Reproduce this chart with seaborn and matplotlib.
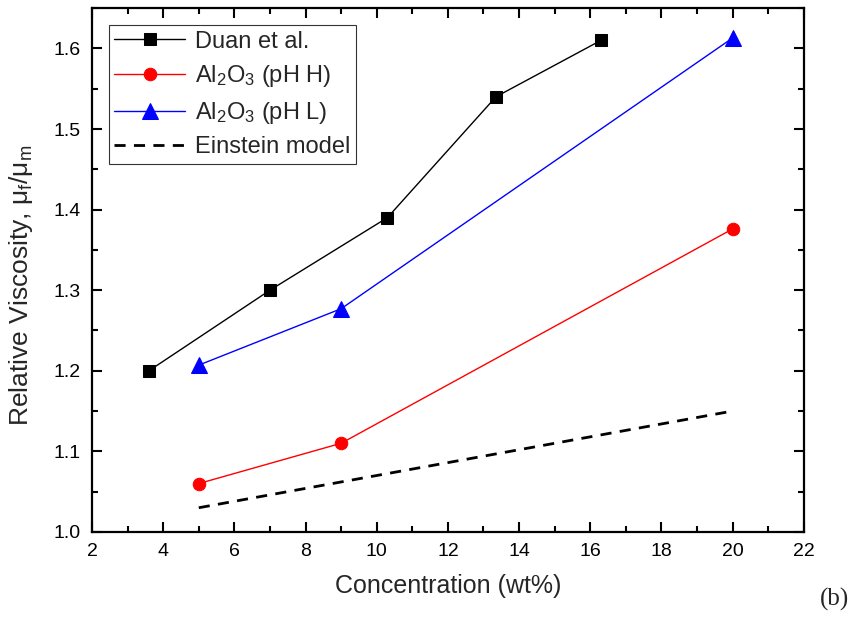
import matplotlib
matplotlib.use("Agg")
import matplotlib.pyplot as plt
import seaborn as sns
import pandas as pd
from matplotlib.ticker import MultipleLocator

duan_x = [3.6, 7.0, 10.3, 13.35, 16.3]
duan_y = [1.20, 1.30, 1.39, 1.54, 1.61]
phh_x = [5, 9, 20]
phh_y = [1.06, 1.11, 1.376]
phl_x = [5, 9, 20]
phl_y = [1.207, 1.277, 1.613]
ein_x = [5, 9, 20]
ein_y = [1.03, 1.062, 1.15]

sns.set_style("ticks")
plt.rcParams['font.family'] = ['Liberation Sans', 'DejaVu Sans']
plt.rcParams['mathtext.fontset'] = 'custom'
plt.rcParams['mathtext.rm'] = 'Liberation Sans'
plt.rcParams['mathtext.it'] = 'Liberation Sans:italic'

fig = plt.figure(figsize=(8.68, 6.28), dpi=100)
ax = fig.add_axes([0.106, 0.153, 0.82, 0.834])

sns.lineplot(x=duan_x, y=duan_y, ax=ax, color='black', lw=1, marker='s',
             markersize=8, markeredgecolor='black', label='Duan et al.')
sns.lineplot(x=phh_x, y=phh_y, ax=ax, color='red', lw=1, marker='o',
             markersize=9, markeredgecolor='red', label=r'Al$_2$O$_3$ (pH H)')
sns.lineplot(x=phl_x, y=phl_y, ax=ax, color='blue', lw=1, marker='^',
             markersize=11, markeredgecolor='blue', label=r'Al$_2$O$_3$ (pH L)')
sns.lineplot(x=ein_x, y=ein_y, ax=ax, color='black', lw=2, linestyle=(0, (4, 3)),
             label='Einstein model')

ax.set_xlim(2, 22)
ax.set_ylim(1.0, 1.65)
ax.xaxis.set_major_locator(MultipleLocator(2))
ax.xaxis.set_minor_locator(MultipleLocator(1))
ax.yaxis.set_major_locator(MultipleLocator(0.1))
ax.yaxis.set_minor_locator(MultipleLocator(0.05))
ax.yaxis.set_major_formatter(matplotlib.ticker.FormatStrFormatter('%.1f'))
ax.tick_params(which='both', direction='in', top=True, right=True, width=1.5,
               labelsize=14, colors='black')
ax.tick_params(which='major', length=7, pad=8)
ax.tick_params(which='minor', length=4)
for s in ax.spines.values():
    s.set_linewidth(1.6)
    s.set_color('black')
    s.set_visible(True)

ax.set_xlabel('Concentration (wt%)', fontsize=18, labelpad=10)
ax.set_ylabel(r'Relative Viscosity, $\mathregular{\mu_f/\mu_m}$', fontsize=19)
ax.yaxis.set_label_coords(-0.08, 0.47)

leg = ax.legend(loc='upper left', fontsize=17, frameon=True, fancybox=False,
                handlelength=3.0, borderaxespad=0.7, labelspacing=0.45,
                handletextpad=0.4, borderpad=0.25)
leg.get_frame().set_edgecolor('black')
leg.get_frame().set_linewidth(0.8)

fig.text(0.945, 0.045, '(b)', fontsize=18, family='Liberation Serif', ha='left', va='center')

fig.savefig('out.png', dpi=100)
